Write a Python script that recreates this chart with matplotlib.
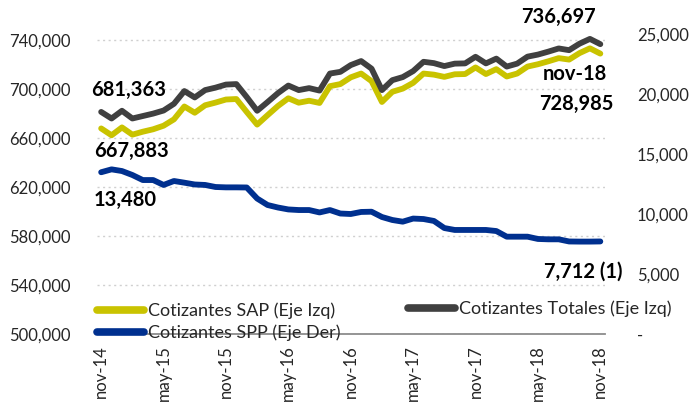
import matplotlib
matplotlib.use("Agg")
import matplotlib.pyplot as plt
from matplotlib.lines import Line2D

plt.rcParams['font.family'] = ['Lato', 'DejaVu Sans']

# ---- data ----
months = ["nov-14", "dic-14", "ene-15", "feb-15", "mar-15", "abr-15", "may-15",
          "jun-15", "jul-15", "ago-15", "sep-15", "oct-15", "nov-15",
          "dic-15", "ene-16", "feb-16", "mar-16", "abr-16", "may-16",
          "jun-16", "jul-16", "ago-16", "sep-16", "oct-16", "nov-16",
          "dic-16", "ene-17", "feb-17", "mar-17", "abr-17", "may-17",
          "jun-17", "jul-17", "ago-17", "sep-17", "oct-17", "nov-17",
          "dic-17", "ene-18", "feb-18", "mar-18", "abr-18", "may-18",
          "jun-18", "jul-18", "ago-18", "sep-18", "oct-18", "nov-18"]

cotizantes_totales = [681363, 676000, 682300, 676000, 678000, 680000, 682500,
                      688000, 698400, 693200, 699200, 701200, 703700,
                      704100, 693500, 682300, 689400, 696700, 702900,
                      699200, 700800, 698800, 712700, 714100, 719600,
                      722900, 716700, 699200, 707300, 709800, 714700,
                      722300, 721200, 718800, 720800, 721000, 726400,
                      721000, 724900, 718400, 720800, 726500, 728200,
                      730600, 733200, 731800, 737100, 741000, 736697]

cotizantes_sap = [667883, 662300, 668700, 662800, 665200, 667200, 670100,
                  675300, 685800, 680700, 686800, 689000, 691500,
                  691900, 681300, 671000, 678700, 686200, 692500,
                  688900, 690500, 688700, 702400, 704100, 709600,
                  712700, 706500, 689500, 697800, 700400, 705100,
                  712700, 711800, 710000, 712100, 712300, 717700,
                  712300, 716300, 710300, 712700, 718400, 720300,
                  722700, 725300, 724100, 729400, 733300, 728985]

cotizantes_spp = [13480, 13720, 13580, 13250, 12830, 12830, 12420,
                  12750, 12610, 12460, 12420, 12250, 12220,
                  12220, 12210, 11290, 10750, 10540, 10380,
                  10330, 10330, 10130, 10330, 10040, 10000,
                  10170, 10190, 9750, 9500, 9360, 9620,
                  9580, 9420, 8830, 8670, 8670, 8670,
                  8670, 8580, 8110, 8110, 8110, 7920,
                  7890, 7890, 7710, 7700, 7700, 7712]

left_ticks = [500000, 540000, 580000, 620000, 660000, 700000, 740000]
right_ticks = [0, 5000, 10000, 15000, 20000, 25000]

label_sap = "Cotizantes SAP (Eje Izq)"
label_tot = "Cotizantes Totales (Eje Izq)"
label_spp = "Cotizantes SPP (Eje Der)"

# ---- style ----
c_sap = "#C9C300"
c_tot = "#404040"
c_spp = "#00308F"
txt = "#262626"
lw = 4.2

fig = plt.figure(figsize=(6.89, 4.07), dpi=100)
W, H = 689, 407
ax = fig.add_axes([97 / W, 73 / H, 508 / W, 300 / H])
ax2 = ax.twinx()

x = list(range(len(months)))

ax.plot(x, cotizantes_sap, color=c_sap, lw=lw, solid_capstyle='round',
        solid_joinstyle='round', zorder=3)
ax.plot(x, cotizantes_totales, color=c_tot, lw=lw, solid_capstyle='round',
        solid_joinstyle='round', zorder=3)
ax2.plot(x, cotizantes_spp, color=c_spp, lw=lw, solid_capstyle='round',
         solid_joinstyle='round', zorder=3)

ax.set_xlim(-0.4, 48.45)
ax.set_ylim(500000, 745000)
ax2.set_ylim(0, 25000)

ax.set_yticks(left_ticks)
ax.set_yticklabels([f"{v:,}" for v in left_ticks])
ax2.set_yticks(right_ticks)
ax2.set_yticklabels(["-" if v == 0 else f"{v:,}" for v in right_ticks])

xt = list(range(0, len(months), 6))
ax.set_xticks(xt)
ax.set_xticklabels([months[i] for i in xt], rotation=90)

ax.tick_params(axis='y', length=0, pad=19, labelsize=12, labelcolor=txt)
ax2.tick_params(axis='y', length=0, pad=23, labelsize=12, labelcolor=txt)
ax.tick_params(axis='x', length=0, pad=8, labelsize=12, labelcolor=txt)

ax.grid(axis='y', linestyle=(0, (1.5, 2.5)), color='#D0D0D0', lw=1.0, zorder=0)
ax.set_axisbelow(True)

for a in (ax, ax2):
    for s in ('top', 'right', 'left', 'bottom'):
        a.spines[s].set_visible(False)
ax.spines['bottom'].set_visible(True)
ax.spines['bottom'].set_color('#8C8C8C')
ax.spines['bottom'].set_linewidth(1.3)
ax.spines['bottom'].set_zorder(5)

# ---- annotations ----
bold = dict(fontsize=14.5, fontweight='bold', color='black', textcoords='offset pixels')
ax.annotate("681,363", (x[0], cotizantes_totales[0]), xytext=(-10, 22),
            ha='left', va='center', **bold)
ax.annotate("667,883", (x[0], cotizantes_sap[0]), xytext=(-7, -23),
            ha='left', va='center', **bold)
ax2.annotate(f"{cotizantes_spp[0]:,}", (x[0], cotizantes_spp[0]), xytext=(-7, -28),
             ha='left', va='center', **bold)
ax.annotate("736,697", (x[-1], cotizantes_totales[-1]), xytext=(-5, 27),
            ha='right', va='center', **bold)
ax.annotate(months[-1], (x[-1], cotizantes_sap[-1]), xytext=(-25, -20),
            ha='center', va='center', **bold)
ax.annotate("728,985", (x[-1], cotizantes_sap[-1]), xytext=(-24, -50),
            ha='center', va='center', **bold)
ax2.annotate(f"{cotizantes_spp[-1]:,} (1)", (x[-1], cotizantes_spp[-1]), xytext=(22, -30),
             ha='right', va='center', **bold)

# ---- legend ----
def handle(c):
    return Line2D([], [], color=c, lw=5.5, solid_capstyle='round')

leg1 = ax2.legend([handle(c_sap), handle(c_spp)], [label_sap, label_spp],
                  loc='center left', bbox_to_anchor=(0.0, 0.04), frameon=False,
                  fontsize=13, handlelength=2.6, handletextpad=0.2,
                  labelspacing=0.28, borderpad=0, borderaxespad=0,
                  labelcolor=txt)
ax2.add_artist(leg1)
ax2.legend([handle(c_tot)], [label_tot],
           loc='center left', bbox_to_anchor=(311 / 508, (334 - 309) / 300),
           frameon=False, fontsize=13, handlelength=2.6, handletextpad=0.2,
           borderpad=0, borderaxespad=0, labelcolor=txt)

fig.savefig("out.png", dpi=100)
